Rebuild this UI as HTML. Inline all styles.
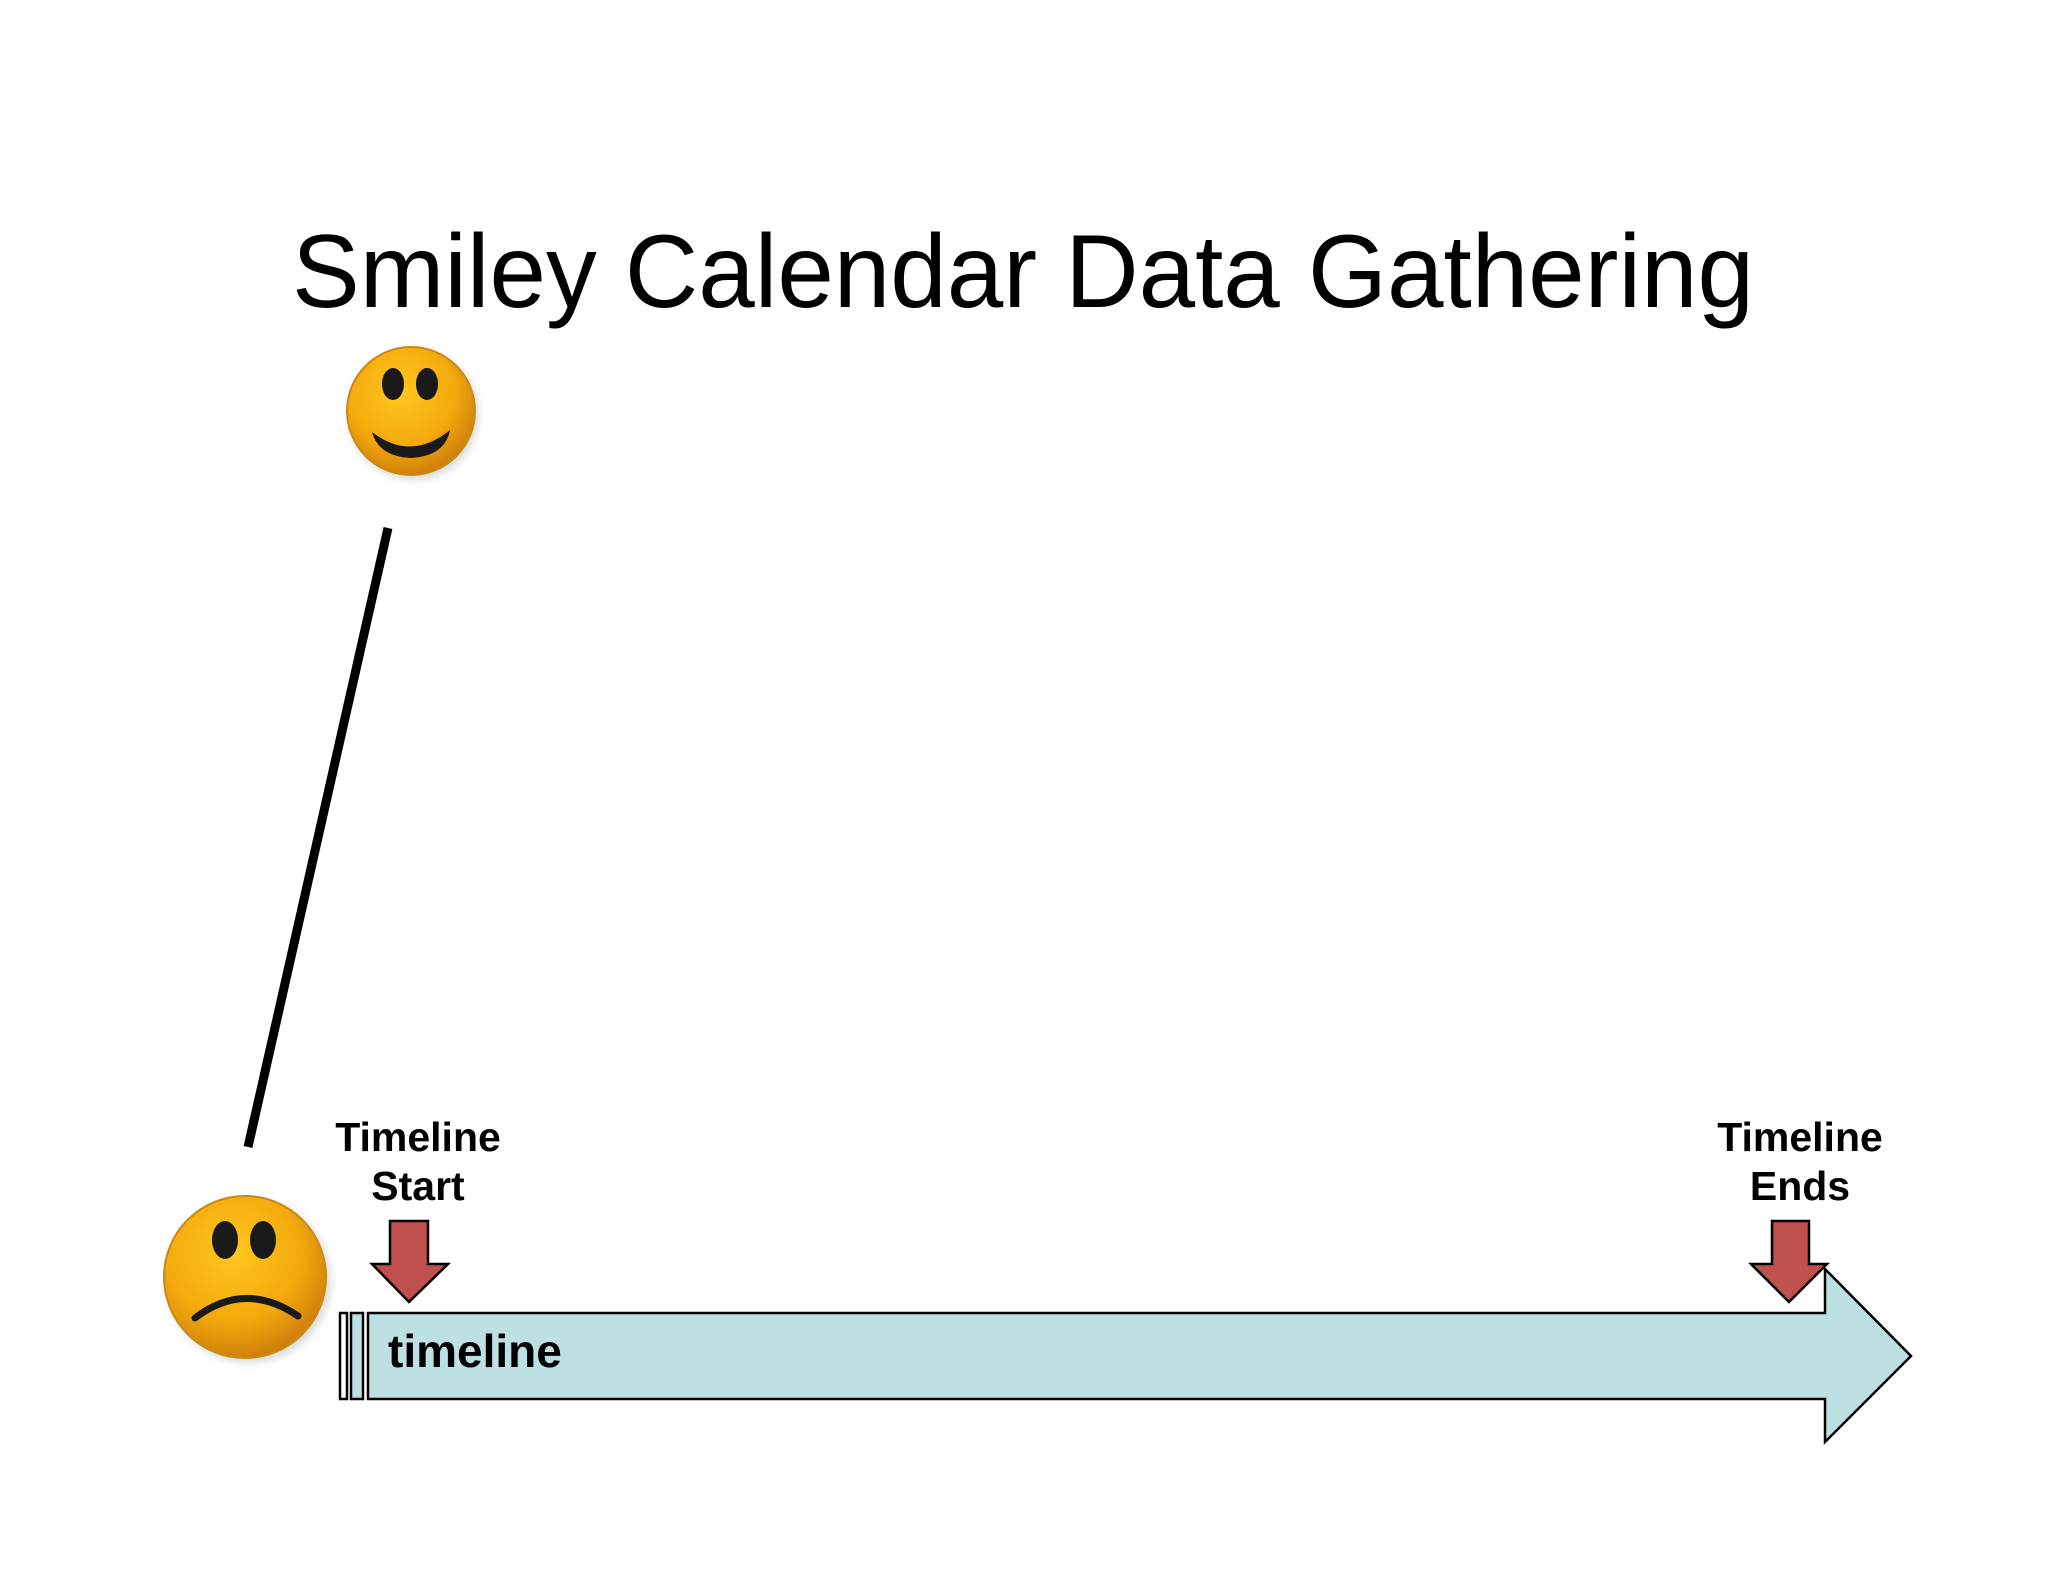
<!DOCTYPE html>
<html><head><meta charset="utf-8"><style>
html,body{margin:0;padding:0;background:#fff;}
svg{display:block;}
</style></head><body>
<svg width="2048" height="1582" viewBox="0 0 2048 1582" xmlns="http://www.w3.org/2000/svg">
<defs>
<radialGradient id="face" cx="0.42" cy="0.35" r="0.7">
<stop offset="0" stop-color="#ffc81e"/><stop offset="0.6" stop-color="#f4a90c"/><stop offset="1" stop-color="#c9780a"/>
</radialGradient>
<filter id="sh" x="-30%" y="-30%" width="160%" height="160%"><feGaussianBlur stdDeviation="4"/></filter>
</defs>
<rect width="2048" height="1582" fill="#fff"/>
<text x="292" y="307" font-family="Liberation Sans, sans-serif" font-size="104" textLength="1462" lengthAdjust="spacingAndGlyphs" fill="#000">Smiley Calendar Data Gathering</text>

<g>
<circle cx="414" cy="415" r="65" fill="#999" opacity="0.35" filter="url(#sh)"/>
<circle cx="411" cy="411" r="64" fill="url(#face)" stroke="#c98a14" stroke-width="2"/>
<ellipse cx="393" cy="384" rx="11" ry="16" fill="#1a1a1a"/>
<ellipse cx="427" cy="384" rx="11" ry="16" fill="#1a1a1a"/>
<path d="M372 432 Q411 462 450 430 Q445 456 411 458 Q378 456 372 432 Z" fill="#1a1a1a"/>
</g>

<line x1="388" y1="528" x2="248" y2="1147" stroke="#000" stroke-width="9"/>

<g>
<circle cx="249" cy="1281" r="82" fill="#999" opacity="0.35" filter="url(#sh)"/>
<circle cx="245" cy="1277" r="81" fill="url(#face)" stroke="#c98a14" stroke-width="2"/>
<ellipse cx="225" cy="1240" rx="13" ry="19" fill="#1a1a1a"/>
<ellipse cx="263" cy="1240" rx="13" ry="19" fill="#1a1a1a"/>
<path d="M195 1318 Q245 1280 298 1316" fill="none" stroke="#1a1a1a" stroke-width="7" stroke-linecap="round"/>
</g>

<g>
<rect x="340" y="1313" width="7" height="86" fill="#fff" stroke="#000" stroke-width="2.5"/>
<rect x="351" y="1313" width="12" height="86" fill="#bde0e3" stroke="#000" stroke-width="2.5"/>
<polygon points="368,1313 1825,1313 1825,1269 1911,1356 1825,1442 1825,1399 368,1399" fill="#bde0e3" stroke="#000" stroke-width="2.5"/>
<text x="388" y="1367" font-family="Liberation Sans, sans-serif" font-weight="bold" font-size="46" fill="#000">timeline</text>
</g>

<g>
<text x="418" y="1151" text-anchor="middle" font-family="Liberation Sans, sans-serif" font-weight="bold" font-size="41" fill="#000">Timeline</text>
<text x="418" y="1200" text-anchor="middle" font-family="Liberation Sans, sans-serif" font-weight="bold" font-size="41" fill="#000">Start</text>
<polygon points="390,1221 428,1221 428,1264 448,1264 409,1302 372,1264 390,1264" fill="#c0504d" stroke="#000" stroke-width="2.5"/>
</g>

<g>
<text x="1800" y="1151" text-anchor="middle" font-family="Liberation Sans, sans-serif" font-weight="bold" font-size="41" fill="#000">Timeline</text>
<text x="1800" y="1200" text-anchor="middle" font-family="Liberation Sans, sans-serif" font-weight="bold" font-size="41" fill="#000">Ends</text>
<polygon points="1772,1221 1809,1221 1809,1264 1827,1264 1789,1302 1751,1264 1772,1264" fill="#c0504d" stroke="#000" stroke-width="2.5"/>
</g>
</svg>
</body></html>
